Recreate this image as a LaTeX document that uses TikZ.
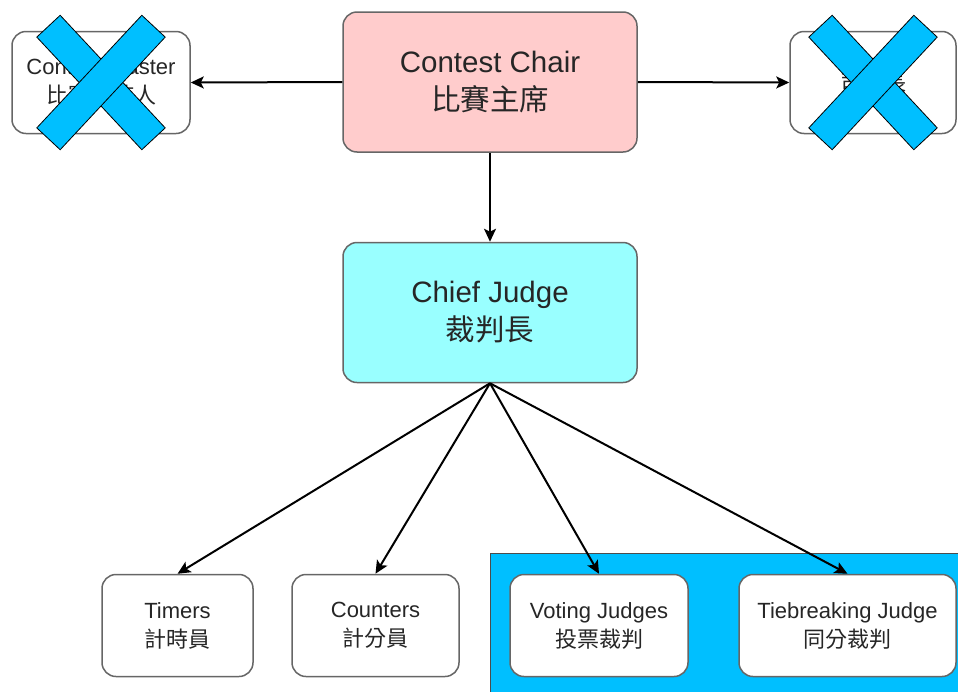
\documentclass[tikz,border=0pt]{standalone}
\usepackage{fontspec}
\setmainfont{Liberation Sans}
\newfontfamily\cjk{Noto Sans CJK TC}
\usetikzlibrary{arrows.meta}
\definecolor{skyblue}{HTML}{00BFFF}
\definecolor{chairpink}{HTML}{FFCCCC}
\definecolor{judgecyan}{HTML}{99FFFF}
\begin{document}
\begin{tikzpicture}[x=1pt,y=-1pt,>={Stealth[length=13pt,width=12pt,inset=3pt]},
	box/.style={draw=black!60,line width=1.5pt,rounded corners=14pt,fill=white,align=center,inner sep=0pt,text=black!85},
	big/.style={box,minimum width=294pt,minimum height=140pt,font=\fontsize{29.5}{38}\selectfont},
	small/.style={box,minimum height=102pt,font=\fontsize{22}{29}\selectfont},
	bar/.style={draw=black,line width=0.8pt,fill=skyblue,minimum width=154pt,minimum height=32pt,inner sep=0pt}]
	\useasboundingbox (0,0) rectangle (958,691);
	% panel behind the two judge boxes
	\draw[fill=skyblue,draw=black!70,line width=0.8pt] (490,553) rectangle (964,697);
	% top row
	\node[big,fill=chairpink] (chair) at (490,82) {Contest Chair\\\cjk 比賽主席};
	\node[small,minimum width=178pt] (master) at (101,82.5) {Contest Master\\\cjk 比賽主持人};
	\node[small,minimum width=166pt] (other) at (873,82.5) {\cjk 司儀長};
	% chief judge
	\node[big,fill=judgecyan] (chief) at (490,312.5) {Chief Judge\\\cjk 裁判長};
	% bottom row
	\node[small,minimum width=151pt] (timers) at (177.5,625.5) {Timers\\\cjk 計時員};
	\node[small,minimum width=167pt] (counters) at (375.5,625.5) {Counters\\\cjk 計分員};
	\node[small,minimum width=178pt] (voting) at (599,625.5) {Voting Judges\\\cjk 投票裁判};
	\node[small,minimum width=217pt] (tie) at (847.5,625.5) {Tiebreaking Judge\\\cjk 同分裁判};
	% arrows
	\draw[->,line width=2pt] (chair.west) -- (master.east);
	\draw[->,line width=2pt] (chair.east) -- (other.west);
	\draw[->,line width=2pt] (chair.south) -- (chief.north);
	\foreach \t in {timers,counters,voting,tie}
		\draw[->,line width=2pt] (chief.south) -- (\t.north);
	% crosses over the removed roles
	\foreach \c in {master,other}{
		\node[bar,rotate=-47] at (\c) {};
		\node[bar,rotate=47] at (\c) {};}
\end{tikzpicture}
\end{document}
